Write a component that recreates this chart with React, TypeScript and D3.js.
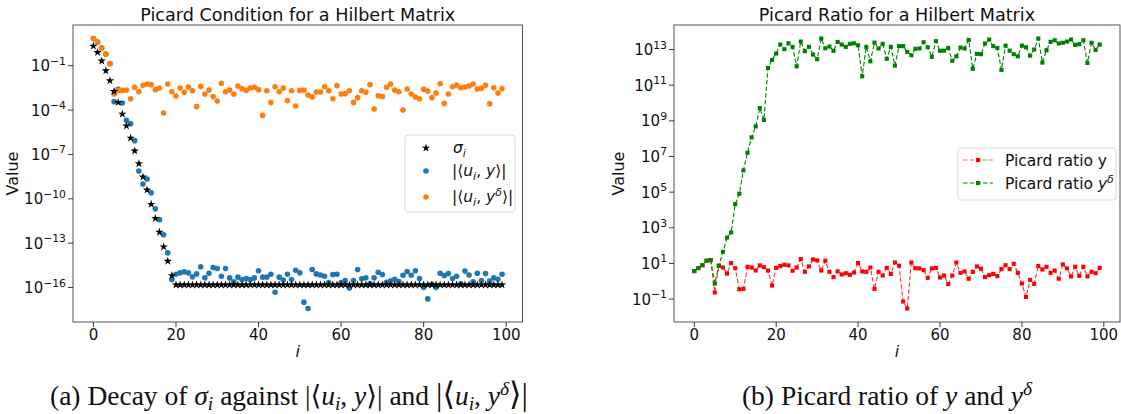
import React from 'react';
import * as d3 from 'd3';

// ---------------- data (log10 of the plotted values) ----------------
const indices = d3.range(100);

const sigmaExp = [
  0.33, -0.10, -0.68, -1.34, -2.01, -2.74, -3.48, -4.27, -5.07, -5.89,
  -6.76, -7.62, -8.52, -9.40, -10.37, -11.32, -12.26, -13.25, -14.22, -15.19,
  -15.82, -15.82, -15.82, -15.82, -15.82, -15.82, -15.82, -15.82, -15.82, -15.82,
  -15.82, -15.82, -15.82, -15.82, -15.82, -15.82, -15.82, -15.82, -15.82, -15.82,
  -15.82, -15.82, -15.82, -15.82, -15.82, -15.82, -15.82, -15.82, -15.82, -15.82,
  -15.82, -15.82, -15.82, -15.82, -15.82, -15.82, -15.82, -15.82, -15.82, -15.82,
  -15.82, -15.82, -15.82, -15.82, -15.82, -15.82, -15.82, -15.82, -15.82, -15.82,
  -15.82, -15.82, -15.82, -15.82, -15.82, -15.82, -15.82, -15.82, -15.82, -15.82,
  -15.82, -15.82, -15.82, -15.82, -15.82, -15.82, -15.82, -15.82, -15.82, -15.82,
  -15.82, -15.82, -15.82, -15.82, -15.82, -15.82, -15.82, -15.82, -15.82, -15.82,
];

const uyExp = [
  0.84, 0.60, 0.20, -0.21, -0.86, -3.43, -2.60, -3.52, -4.69, -4.92,
  -6.07, -8.12, -9.00, -8.66, -9.60, -10.68, -11.41, -12.44, -13.66, -15.46,
  -15.10, -15.01, -14.94, -15.01, -15.28, -15.08, -14.60, -15.34, -15.04, -14.65,
  -14.71, -15.24, -14.71, -15.35, -15.61, -15.30, -15.46, -15.39, -15.46, -15.35,
  -14.87, -15.30, -15.30, -15.10, -16.32, -15.30, -15.50, -15.10, -15.46, -14.83,
  -15.01, -16.99, -17.42, -14.78, -15.08, -15.15, -15.24, -15.66, -15.12, -15.10,
  -15.66, -15.53, -16.03, -15.53, -14.78, -15.41, -15.34, -15.73, -15.34, -14.97,
  -15.12, -15.64, -15.55, -15.44, -15.59, -15.17, -14.92, -15.17, -14.87, -15.39,
  -15.99, -16.77, -15.78, -15.99, -15.04, -15.19, -15.06, -15.39, -15.24, -15.75,
  -14.89, -15.15, -15.61, -15.04, -15.53, -15.06, -15.57, -15.34, -15.44, -15.10,
];

const uyDeltaExp = [
  0.84, 0.60, 0.20, -0.21, -0.86, -2.91, -2.67, -2.67, -2.65, -3.23,
  -2.46, -2.76, -2.33, -2.24, -2.28, -2.62, -2.51, -4.20, -2.24, -2.76,
  -3.05, -2.51, -2.80, -2.44, -2.69, -3.77, -2.40, -2.91, -2.65, -3.09,
  -3.39, -2.19, -2.76, -2.65, -2.91, -2.37, -2.55, -2.67, -2.51, -2.46,
  -2.62, -4.36, -2.69, -3.48, -2.42, -2.76, -2.51, -3.36, -2.69, -3.72,
  -2.67, -2.65, -2.98, -3.12, -2.78, -2.78, -2.42, -2.69, -3.23, -2.35,
  -2.91, -2.89, -2.69, -3.48, -3.16, -2.69, -2.80, -2.28, -3.93, -3.03,
  -3.09, -2.46, -2.24, -2.65, -2.76, -4.00, -2.58, -2.91, -3.12, -3.23,
  -2.60, -2.71, -3.16, -2.85, -2.22, -3.55, -2.91, -2.42, -2.31, -2.49,
  -2.44, -2.37, -2.24, -2.58, -2.53, -2.33, -3.57, -2.49, -2.85, -2.55,
];

const ratioYExp = [
  0.57, 0.74, 0.90, 1.15, 1.19, -0.63, 0.87, 0.77, 0.43, 1.02,
  0.73, -0.45, -0.43, 0.81, 0.77, 0.60, 0.89, 0.79, 0.60, -0.24,
  0.75, 0.85, 0.92, 0.89, 0.59, 0.77, 1.24, 0.53, 0.83, 1.22,
  1.17, 0.60, 1.15, 0.53, 0.23, 0.55, 0.38, 0.45, 0.36, 0.49,
  1.02, 0.55, 0.53, 0.77, -0.43, 0.53, 0.32, 0.75, 0.41, 1.05,
  0.87, -1.14, -1.53, 1.05, 0.73, 0.72, 0.62, 0.19, 0.72, 0.75,
  0.21, 0.32, -0.16, 0.32, 1.05, 0.47, 0.55, 0.14, 0.53, 0.83,
  0.70, 0.23, 0.34, 0.41, 0.29, 0.68, 0.90, 0.68, 0.98, 0.47,
  -0.13, -0.88, 0.08, -0.15, 0.85, 0.66, 0.81, 0.47, 0.60, 0.14,
  0.94, 0.72, 0.27, 0.81, 0.30, 0.81, 0.27, 0.53, 0.45, 0.75,
];

const ratioYDeltaExp = [
  0.57, 0.74, 0.90, 1.15, 1.19, -0.13, 0.87, 1.65, 2.45, 2.74,
  4.33, 4.91, 6.22, 7.21, 8.07, 8.69, 9.72, 9.05, 11.97, 12.42,
  12.78, 13.28, 13.02, 13.35, 13.15, 12.06, 13.45, 12.91, 13.15, 12.72,
  12.46, 13.62, 13.07, 13.17, 12.93, 13.43, 13.28, 13.15, 13.32, 13.35,
  13.24, 11.50, 13.15, 12.34, 13.39, 13.06, 13.32, 12.48, 13.15, 12.10,
  13.19, 13.19, 12.87, 12.68, 13.04, 13.06, 13.41, 13.13, 12.59, 13.47,
  12.93, 12.94, 13.09, 12.37, 12.62, 13.11, 13.06, 13.54, 11.92, 12.76,
  12.74, 13.34, 13.56, 13.19, 13.09, 11.86, 13.22, 12.94, 12.74, 12.62,
  13.22, 13.13, 12.66, 13.00, 13.62, 12.27, 12.96, 13.43, 13.52, 13.34,
  13.38, 13.45, 13.56, 13.26, 13.30, 13.52, 12.25, 13.38, 12.98, 13.28,
];

const xTickValues = [0, 20, 40, 60, 80, 100];
const leftYTickExps = [-16, -13, -10, -7, -4, -1];
const rightYTickExps = [-1, 1, 3, 5, 7, 9, 11, 13];

const leftTitle = 'Picard Condition for a Hilbert Matrix';
const rightTitle = 'Picard Ratio for a Hilbert Matrix';
const legendRatioY = 'Picard ratio y';
const legendRatioYDelta = 'Picard ratio ';

// ---------------- layout / style ----------------
const FONT = "'DejaVu Sans', sans-serif";
const SERIF = "'Liberation Serif', 'DejaVu Serif', serif";
const FS = 15;
const LFS = 15.5;
const BLUE = '#1f77b4';
const ORANGE = '#ff7f0e';
const RED = '#ff0000';
const GREEN = '#008000';

const L = { x0: 73, x1: 522.5, y0: 25, y1: 322 };
const R = { x0: 674, x1: 1120, y0: 25, y1: 322 };

function paddedLinear(vals: number[]) {
  const [lo, hi] = d3.extent(vals) as [number, number];
  const p = (hi - lo) * 0.05;
  return [lo - p, hi + p];
}
function paddedLog(exps: number[]) {
  const [lo, hi] = d3.extent(exps) as [number, number];
  const p = (hi - lo) * 0.05;
  return [Math.pow(10, lo - p), Math.pow(10, hi + p)];
}
const pow10 = (e: number) => Math.pow(10, e);
const fmtExp = (e: number) => (e < 0 ? '\u2212' + Math.abs(e) : String(e));

function Frame({ b }: { b: typeof L }) {
  return (
    <rect x={b.x0} y={b.y0} width={b.x1 - b.x0} height={b.y1 - b.y0}
      fill="none" stroke="#555" strokeWidth={1} />
  );
}

function XAxis({ b, x }: { b: typeof L; x: d3.ScaleLinear<number, number> }) {
  return (
    <g>
      {xTickValues.map((t) => (
        <g key={t}>
          <line x1={x(t)} x2={x(t)} y1={b.y1} y2={b.y1 + 5} stroke="#222" strokeWidth={0.9} />
          <text x={x(t)} y={b.y1 + 18} textAnchor="middle" fontSize={FS} fontFamily={FONT} fill="#111">{t}</text>
        </g>
      ))}
      <text x={(b.x0 + b.x1) / 2} y={b.y1 + 35} textAnchor="middle" fontSize={FS + 1}
        fontFamily={FONT} fontStyle="italic" fill="#111">i</text>
    </g>
  );
}

function YAxis({ b, y, exps, labelX }: { b: typeof L; y: d3.ScaleLogarithmic<number, number>; exps: number[]; labelX: number }) {
  return (
    <g>
      {exps.map((e) => {
        const py = y(pow10(e));
        return (
          <g key={e}>
            <line x1={b.x0 - 5} x2={b.x0} y1={py} y2={py} stroke="#222" strokeWidth={0.9} />
            <text x={b.x0 - 7} y={py + 5.5} textAnchor="end" fontSize={FS} fontFamily={FONT} fill="#111">
              10<tspan dy={-6.5} fontSize={10.8}>{fmtExp(e)}</tspan>
            </text>
          </g>
        );
      })}
      <text transform={`translate(${labelX},${(b.y0 + b.y1) / 2}) rotate(-90)`} textAnchor="middle"
        fontSize={FS + 1} fontFamily={FONT} fill="#111">Value</text>
    </g>
  );
}

const starPath = d3.symbol().type(d3.symbolStar).size(22)() as string;
const squarePath = d3.symbol().type(d3.symbolSquare).size(17)() as string;
const DOT_R = 2.8;

function LeftPanel() {
  const x = d3.scaleLinear().domain(paddedLinear(indices)).range([L.x0, L.x1]);
  const y = d3.scaleLog().domain(paddedLog([...sigmaExp, ...uyExp, ...uyDeltaExp])).range([L.y1, L.y0]);
  return (
    <g>
      <text x={(L.x0 + L.x1) / 2} y={21} textAnchor="middle" fontSize={17.6} fontFamily={FONT} fill="#111">{leftTitle}</text>
      {indices.map((i) => (
        <circle key={'b' + i} cx={x(i)} cy={y(pow10(uyExp[i]))} r={DOT_R} fill={BLUE} />
      ))}
      {indices.map((i) => (
        <circle key={'o' + i} cx={x(i)} cy={y(pow10(uyDeltaExp[i]))} r={DOT_R} fill={ORANGE} />
      ))}
      {indices.map((i) => (
        <path key={'s' + i} d={starPath} transform={`translate(${x(i)},${y(pow10(sigmaExp[i]))})`} fill="#000" />
      ))}
      <Frame b={L} />
      <XAxis b={L} x={x} />
      <YAxis b={L} y={y} exps={leftYTickExps} labelX={18} />
      {/* legend */}
      <g fontFamily={FONT} fontSize={LFS} fill="#111">
        <rect x={405} y={135} width={110} height={77} rx={3} fill="#fff" fillOpacity={0.8} stroke="#d6d6d6" strokeWidth={0.9} />
        <path d={starPath} transform="translate(426,148)" fill="#000" />
        <circle cx={426} cy={171} r={DOT_R} fill={BLUE} />
        <circle cx={426} cy={197} r={DOT_R} fill={ORANGE} />
        <text x={453} y={153}>
          <tspan fontStyle="italic">σ</tspan><tspan dy={3.5} fontSize={11} fontStyle="italic">i</tspan>
        </text>
        <text x={452} y={176}>
          |⟨<tspan fontStyle="italic">u</tspan><tspan dy={3.5} fontSize={11} fontStyle="italic">i</tspan>
          <tspan dy={-3.5}>, </tspan><tspan fontStyle="italic">y</tspan>⟩|
        </text>
        <text x={452} y={202}>
          |⟨<tspan fontStyle="italic">u</tspan><tspan dy={3.5} fontSize={11} fontStyle="italic">i</tspan>
          <tspan dy={-3.5}>, </tspan><tspan fontStyle="italic">y</tspan><tspan dy={-6} fontSize={11} fontStyle="italic">δ</tspan><tspan dy={6}>⟩|</tspan>
        </text>
      </g>
    </g>
  );
}

function RightPanel() {
  const x = d3.scaleLinear().domain(paddedLinear(indices)).range([R.x0, R.x1]);
  const y = d3.scaleLog().domain(paddedLog([...ratioYExp, ...ratioYDeltaExp])).range([R.y1, R.y0]);
  const mk = (arr: number[]) =>
    d3.line<number>().x((i) => x(i)).y((i) => y(pow10(arr[i])))(indices) as string;
  return (
    <g>
      <text x={(R.x0 + R.x1) / 2} y={21} textAnchor="middle" fontSize={17.6} fontFamily={FONT} fill="#111">{rightTitle}</text>
      <path d={mk(ratioYExp)} fill="none" stroke={RED} strokeOpacity={0.8} strokeWidth={1.1} strokeDasharray="4.5,2.2" />
      {indices.map((i) => (
        <path key={'r' + i} d={squarePath} transform={`translate(${x(i)},${y(pow10(ratioYExp[i]))})`} fill={RED} />
      ))}
      <path d={mk(ratioYDeltaExp)} fill="none" stroke={GREEN} strokeWidth={1.1} strokeDasharray="4.5,2.2" />
      {indices.map((i) => (
        <path key={'g' + i} d={squarePath} transform={`translate(${x(i)},${y(pow10(ratioYDeltaExp[i]))})`} fill={GREEN} />
      ))}
      <Frame b={R} />
      <XAxis b={R} x={x} />
      <YAxis b={R} y={y} exps={rightYTickExps} labelX={624} />
      <g fontFamily={FONT} fontSize={LFS} fill="#111">
        <rect x={958} y={148} width={158} height={52} rx={3} fill="#fff" fillOpacity={0.8} stroke="#d6d6d6" strokeWidth={0.9} />
        <line x1={963} x2={993} y1={160} y2={160} stroke={RED} strokeOpacity={0.6} strokeWidth={1.1} strokeDasharray="4.5,2.2" />
        <path d={squarePath} transform="translate(978,160)" fill={RED} />
        <line x1={963} x2={993} y1={183} y2={183} stroke={GREEN} strokeWidth={1.1} strokeDasharray="4.5,2.2" />
        <path d={squarePath} transform="translate(978,183)" fill={GREEN} />
        <text x={1005} y={165.5}>{legendRatioY}</text>
        <text x={1005} y={188.5}>{legendRatioYDelta}<tspan fontStyle="italic">y</tspan><tspan dy={-6} fontSize={11} fontStyle="italic">δ</tspan></text>
      </g>
    </g>
  );
}

function Captions() {
  return (
    <g fontFamily={SERIF} fontSize={27.5} fill="#111">
      <text x={289} y={405} textAnchor="middle">
        (a) Decay of <tspan fontStyle="italic">σ</tspan><tspan dy={5} fontSize={19.5} fontStyle="italic">i</tspan>
        <tspan dy={-5}> against |⟨</tspan><tspan fontStyle="italic">u</tspan><tspan dy={5} fontSize={19.5} fontStyle="italic">i</tspan>
        <tspan dy={-5}>, </tspan><tspan fontStyle="italic">y</tspan>⟩| and <tspan fontSize={32}>|⟨</tspan><tspan fontStyle="italic">u</tspan><tspan dy={5} fontSize={19.5} fontStyle="italic">i</tspan>
        <tspan dy={-5}>, </tspan><tspan fontStyle="italic">y</tspan><tspan dy={-10} fontSize={19.5} fontStyle="italic">δ</tspan><tspan dy={10} fontSize={32}>⟩|</tspan>
      </text>
      <text x={887} y={405} textAnchor="middle">
        (b) Picard ratio of <tspan fontStyle="italic">y</tspan> and <tspan fontStyle="italic">y</tspan><tspan dy={-10} fontSize={19.5} fontStyle="italic">δ</tspan>
      </text>
    </g>
  );
}

export default function App() {
  return (
    <svg width={1121} height={414} viewBox="0 0 1121 414"
      style={{ position: 'absolute', left: 0, top: 0, background: '#fff' }}>
      <rect x={0} y={0} width={1121} height={414} fill="#fff" />
      <LeftPanel />
      <RightPanel />
      <Captions />
    </svg>
  );
}
